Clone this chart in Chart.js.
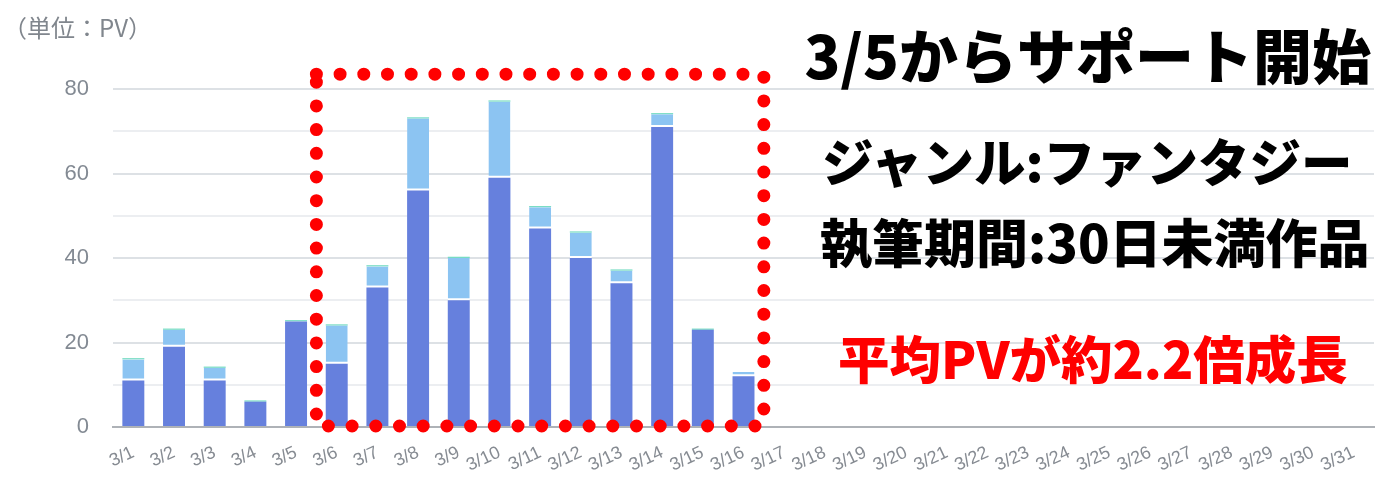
<!DOCTYPE html>
<html lang="ja">
<head>
<meta charset="utf-8">
<script src="https://cdn.jsdelivr.net/npm/chart.js@4.4.1/dist/chart.umd.min.js"></script>
<style>
  body { margin: 0; background: #fff; }
  #wrap { position: relative; width: 1398px; height: 494px; }
  .note { position: absolute; font-family: "Noto Sans CJK JP", sans-serif; font-weight: 900; white-space: nowrap; line-height: 1; }
</style>
</head>
<body>
<div id="wrap">
  <canvas id="pvChart"></canvas>
  <div class="note" style="left:3px; top:15px; font-size:24px; font-weight:400; color:#80868d;">（単位：PV）</div>
  <div class="note" style="right:27px; top:24px; font-size:59px; color:#000;">3/5からサポート開始</div>
  <div class="note" style="left:822px; width:526px; text-align:center; top:134px; font-size:51.5px; color:#000;">ジャンル:ファンタジー</div>
  <div class="note" style="left:820px; width:542px; text-align:center; top:215px; font-size:52px; color:#000;">執筆期間:30日未満作品</div>
  <div class="note" style="left:838px; width:505px; text-align:center; top:331px; font-size:51.5px; color:#ff0000;">平均PVが約2.2倍成長</div>
</div>
<script>
// 日付ラベル 3/1 〜 3/31
const dias = ['3/1','3/2','3/3','3/4','3/5','3/6','3/7','3/8','3/9','3/10',
  '3/11','3/12','3/13','3/14','3/15','3/16','3/17','3/18','3/19','3/20',
  '3/21','3/22','3/23','3/24','3/25','3/26','3/27','3/28','3/29','3/30','3/31'];

// PV（積み上げ） 3/17 以降はデータなし
const pvPrincipal = [11, 19, 11, 6, 25, 15, 33, 56, 30, 59, 47, 40, 34, 71, 23, 12,
  0, 0, 0, 0, 0, 0, 0, 0, 0, 0, 0, 0, 0, 0, 0];
const pvSecundario = [5, 4, 3, 0, 0, 9, 5, 17, 10, 18, 5, 6, 3, 3, 0, 1,
  0, 0, 0, 0, 0, 0, 0, 0, 0, 0, 0, 0, 0, 0, 0];
const pvOutros = [0.3, 0.3, 0.3, 0.3, 0.3, 0.3, 0.3, 0.3, 0.3, 0.3, 0.3, 0.3, 0.3, 0.3, 0.3, 0,
  0, 0, 0, 0, 0, 0, 0, 0, 0, 0, 0, 0, 0, 0, 0];

// 点線の枠（サポート期間）: 3/6〜3/16
const inicioSuporte = 5;
const fimSuporte = 15;
const topoSuporte = 83.5;

// 赤い点線で囲む
const molduraPontilhada = {
  id: 'molduraPontilhada',
  afterDatasetsDraw(chart) {
    const { ctx, scales: { x, y } } = chart;
    const esq = (x.getPixelForValue(inicioSuporte - 1) + x.getPixelForValue(inicioSuporte)) / 2;
    const dir = (x.getPixelForValue(fimSuporte) + x.getPixelForValue(fimSuporte + 1)) / 2;
    const cima = y.getPixelForValue(topoSuporte);
    const baixo = y.getPixelForValue(0) - 1;
    ctx.save();
    ctx.strokeStyle = '#ff0000';
    ctx.lineWidth = 13;
    ctx.lineCap = 'round';
    ctx.setLineDash([0, 23.7]);
    ctx.beginPath();
    ctx.moveTo(esq, cima);
    ctx.lineTo(dir, cima);
    ctx.stroke();
    ctx.beginPath();
    ctx.moveTo(dir, cima + 3);
    ctx.lineTo(dir, baixo);
    ctx.stroke();
    ctx.beginPath();
    ctx.moveTo(esq, cima + 8);
    ctx.lineTo(esq, baixo);
    ctx.stroke();
    ctx.beginPath();
    ctx.moveTo(esq + 12, baixo);
    ctx.lineTo(dir, baixo);
    ctx.stroke();
    ctx.restore();
  }
};

const ctx = document.getElementById('pvChart').getContext('2d');

const chart = new Chart(ctx, {
  type: 'bar',
  data: {
    labels: dias,
    datasets: [
      { label: 'PV1', data: pvPrincipal, backgroundColor: '#6680dd', borderWidth: 0,
        categoryPercentage: 1, barPercentage: 0.54 },
      { label: 'PV2', data: pvSecundario, backgroundColor: '#8cc4f2', borderColor: '#ffffff',
        borderWidth: { top: 0, left: 0, right: 0, bottom: 2 }, borderSkipped: false,
        categoryPercentage: 1, barPercentage: 0.54 },
      { label: 'PV3', data: pvOutros, backgroundColor: '#76dcc2', borderWidth: 0,
        categoryPercentage: 1, barPercentage: 0.54 }
    ]
  },
  options: {
    responsive: true,
    maintainAspectRatio: false,
    animation: false,
    layout: { padding: { top: 89, right: 24, bottom: 0, left: 0 } },
    plugins: {
      legend: { display: false },
      tooltip: { enabled: false }
    },
    scales: {
      x: {
        stacked: true,
        grid: { display: false },
        border: { color: '#aeb2b7', width: 2 },
        ticks: {
          color: '#868b92',
          font: { family: 'Liberation Sans', size: 18 },
          autoSkip: false,
          minRotation: 25,
          maxRotation: 25,
          padding: 7
        },
        afterFit: (scale) => { scale.height = 67; }
      },
      y: {
        stacked: true,
        min: 0,
        max: 80,
        border: { display: false },
        grid: {
          color: (c) => (c.tick.value === 0 ? 'rgba(0,0,0,0)' : (c.tick.value % 20 === 0 ? '#dde1e5' : '#eceef1')),
          lineWidth: 2,
          drawTicks: false
        },
        ticks: {
          stepSize: 10,
          padding: 24,
          color: '#838a93',
          font: { family: 'Liberation Sans', size: 22 },
          callback: (v) => (v % 20 === 0 ? v : '')
        },
        afterFit: (scale) => { scale.width = 113; }
      }
    }
  },
  plugins: [molduraPontilhada]
});
</script>
</body>
</html>
